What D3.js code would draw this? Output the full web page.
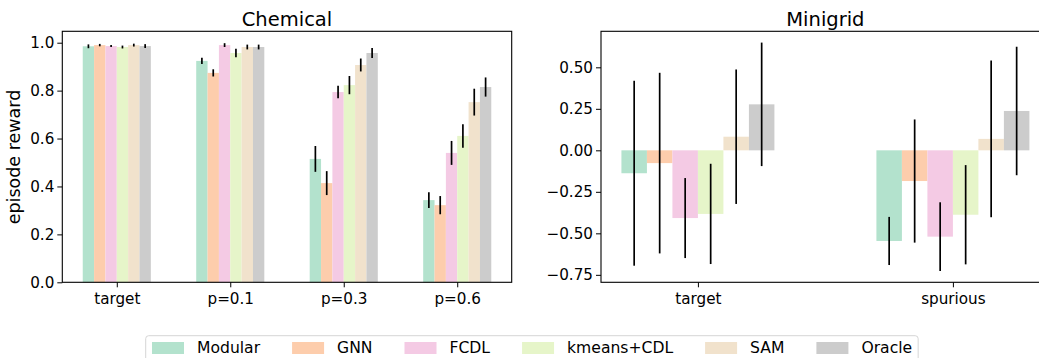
<!DOCTYPE html>
<meta charset="utf-8">
<style>
body { margin: 0; background: #fff; }
svg { display: block; font-family: "DejaVu Sans", sans-serif; }
</style>
<svg width="1039" height="358"></svg>
<script src="https://cdn.jsdelivr.net/npm/d3@7"></script>
<script>
var methods = ["Modular", "GNN", "FCDL", "kmeans+CDL", "SAM", "Oracle"]
var colors = ["#b3e2cd", "#fdcdac", "#f4cae4", "#e6f5c9", "#f1e2cc", "#cccccc"]

// Chemical: rows = method, cols = category
var chemCats = ["target", "p=0.1", "p=0.3", "p=0.6"]
var chemMean = [
  [0.985, 0.924, 0.515, 0.343],
  [0.990, 0.874, 0.414, 0.322],
  [0.986, 0.990, 0.794, 0.540],
  [0.982, 0.957, 0.823, 0.611],
  [0.990, 0.982, 0.907, 0.752],
  [0.986, 0.982, 0.957, 0.815]
]
var chemErr = [
  [0.008, 0.013, 0.054, 0.033],
  [0.005, 0.015, 0.050, 0.038],
  [0.004, 0.008, 0.026, 0.050],
  [0.006, 0.018, 0.038, 0.049],
  [0.006, 0.010, 0.027, 0.056],
  [0.008, 0.010, 0.021, 0.040]
]
var chemTicks = [0, 0.2, 0.4, 0.6, 0.8, 1.0]

// Minigrid
var gridCats = ["target", "spurious"]
var gridMean = [
  [-0.138, -0.546],
  [-0.077, -0.185],
  [-0.408, -0.520],
  [-0.383, -0.388],
  [0.082, 0.069],
  [0.277, 0.237]
]
var gridErr = [
  [0.557, 0.145],
  [0.544, 0.371],
  [0.241, 0.207],
  [0.302, 0.299],
  [0.405, 0.472],
  [0.372, 0.387]
]
var gridTicks = [-0.75, -0.5, -0.25, 0, 0.25, 0.5]

var svg = d3.select("svg")
var barW = 0.1

function minus(s){ return s.replace("-", "\u2212") }

function panel(o){
  var x = d3.scaleLinear().domain([-0.3 - (o.cats.length - 0.4) * 0.05 - 0.0001, o.cats.length - 0.7 + (o.cats.length - 0.4) * 0.05]).range([o.left, o.right])
  var y = d3.scaleLinear().domain(o.ydom).range([o.bottom, o.top])
  var g = svg.append("g")

  methods.forEach(function(m, i){
    o.cats.forEach(function(c, j){
      var cx = j + (i - 2.5) * barW
      var v = o.mean[i][j]
      g.append("rect")
        .attr("x", x(cx - barW / 2))
        .attr("width", x(cx + barW / 2) - x(cx - barW / 2))
        .attr("y", y(Math.max(0, v)))
        .attr("height", Math.abs(y(v) - y(0)))
        .attr("fill", colors[i])
    })
  })
  methods.forEach(function(m, i){
    o.cats.forEach(function(c, j){
      var cx = j + (i - 2.5) * barW
      var v = o.mean[i][j], e = o.err[i][j]
      g.append("line")
        .attr("x1", x(cx)).attr("x2", x(cx))
        .attr("y1", y(v - e)).attr("y2", y(v + e))
        .attr("stroke", "#000").attr("stroke-width", 1.7)
    })
  })

  var yAxis = d3.axisLeft(y).tickValues(o.ticks).tickFormat(function(d){ return minus(d3.format(o.fmt)(d)) })
    .tickSize(5).tickPadding(3)
  var ya = g.append("g").attr("transform", "translate(" + o.left + ",0)").call(yAxis)
  var xAxis = d3.axisBottom(x).tickValues(d3.range(o.cats.length)).tickFormat(function(d){ return o.cats[d] })
    .tickSize(5).tickPadding(3)
  var xa = g.append("g").attr("transform", "translate(0," + o.bottom + ")").call(xAxis)
  ;[ya, xa].forEach(function(a){
    a.select(".domain").remove()
    a.selectAll("line").attr("stroke", "#000").attr("stroke-width", 1)
    a.selectAll("text").attr("fill", "#000").attr("font-size", 15.2).attr("font-family", "DejaVu Sans")
  })
  xa.selectAll("text").attr("dy", "0.93em")

  g.append("rect")
    .attr("x", o.left).attr("y", o.top)
    .attr("width", o.right - o.left).attr("height", o.bottom - o.top)
    .attr("fill", "none").attr("stroke", "#000").attr("stroke-width", 1.1)

  g.append("text")
    .attr("x", (o.left + o.right) / 2).attr("y", 26)
    .attr("text-anchor", "middle").attr("font-size", 19.5)
    .text(o.title)
}

panel({
  title: "Chemical", cats: chemCats, mean: chemMean, err: chemErr,
  ticks: chemTicks, fmt: ".1f", ydom: [0, 1.0476],
  left: 62.3, right: 511.7, top: 31.3, bottom: 282.3
})
panel({
  title: "Minigrid", cats: gridCats, mean: gridMean, err: gridErr,
  ticks: gridTicks, fmt: ".2f", ydom: [-0.795, 0.717],
  left: 601, right: 1049.8, top: 31.3, bottom: 282.3
})

svg.append("text")
  .attr("transform", "translate(20,157) rotate(-90)")
  .attr("text-anchor", "middle").attr("font-size", 17.5)
  .text("episode reward")

// legend
var leg = svg.append("g")
var legBox = leg.append("rect")
  .attr("x", 145.7).attr("y", 335.7).attr("rx", 3).attr("ry", 3)
  .attr("height", 40).attr("fill", "#fff").attr("stroke", "#d6d6d6").attr("stroke-width", 1)
var lx = 152
methods.forEach(function(m, i){
  leg.append("rect").attr("x", lx).attr("y", 342).attr("width", 32).attr("height", 12).attr("fill", colors[i])
  var t = leg.append("text").attr("x", lx + 45).attr("y", 353.3).attr("font-size", 15.6).text(m)
  lx = lx + 45 + t.node().getComputedTextLength() + 32
})
legBox.attr("width", lx - 32 + 6 - 145.7)
</script>
